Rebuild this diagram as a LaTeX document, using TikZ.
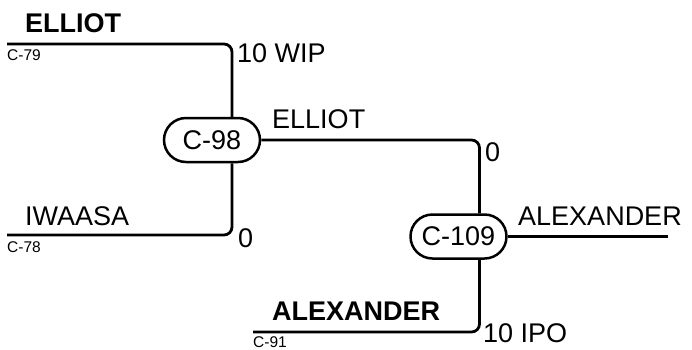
\documentclass[tikz,border=0pt]{standalone}
\usepackage{fontspec}
\setmainfont{Liberation Sans}
\usetikzlibrary{shapes.misc}

\begin{document}
\begin{tikzpicture}
  [x=1pt,y=-1pt,every node/.style={inner sep=0pt,font=\fontsize{27}{30}\selectfont},
   match/.style={rounded rectangle,draw,line width=2.5pt,minimum width=96pt,minimum height=44pt},
   wire/.style={line width=2.8pt,rounded corners=8pt},
   seedtag/.style={anchor=base west,font=\fontsize{15.5}{17}\selectfont},
   playertag/.style={anchor=base west}]

  \useasboundingbox (0,0) rectangle (692,349);

  \node[match] (c98) at (212,140) {C-98};
  \node[match] (c109) at (458.5,236.5) {C-109};

  \coordinate (p79) at (7,44);
  \coordinate (p78) at (7,235);
  \coordinate (p91) at (253,332);
  \coordinate (w109) at (668,236.5);

  \draw[wire] (p79) -| ([xshift=20pt]c98.north);
  \draw[wire] (p78) -| ([xshift=20pt]c98.south);
  \draw[wire] (c98.east) -| ([xshift=21pt]c109.north);
  \draw[wire] (p91) -| ([xshift=21pt]c109.south);
  \draw[wire] (c109.east) -- (w109);

  \node[playertag,font=\fontsize{27}{30}\selectfont\bfseries] (t1) at (25,32) {ELLIOT};
  \node[seedtag] (s79) at (7,60) {C-79};
  \node[playertag] (r1) at (237,62) {10 WIP};
  \node[playertag] (t2) at (25,225) {IWAASA};
  \node[seedtag] (s78) at (7,252) {C-78};
  \node[playertag] (r2) at (238,247) {0};
  \node[playertag] (w98) at (272,128) {ELLIOT};
  \node[playertag] (r3) at (485,161) {0};
  \node[playertag,font=\fontsize{27}{30}\selectfont\bfseries] (t3) at (272,320) {ALEXANDER};
  \node[seedtag] (s91) at (253,347) {C-91};
  \node[playertag] (r4) at (483,342) {10 IPO};
  \node[playertag] (w) at (518,225) {ALEXANDER};

\end{tikzpicture}
\end{document}
